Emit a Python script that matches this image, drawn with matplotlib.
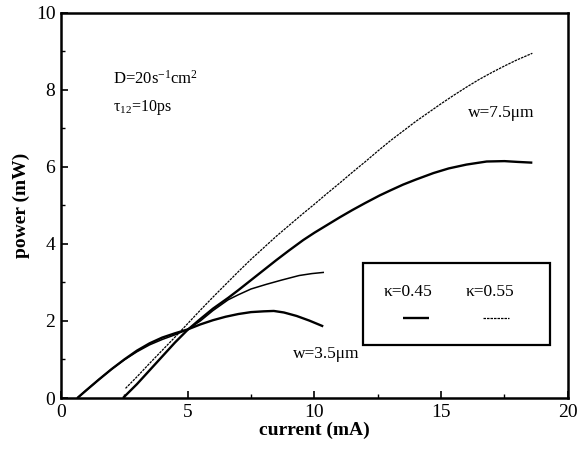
import matplotlib
matplotlib.use("Agg")
import matplotlib.pyplot as plt
from matplotlib.patches import Rectangle
from matplotlib.ticker import MultipleLocator

# ── data ─────────────────────────────────────────────────────────────────────
# w = 3.5 um, kappa = 0.45 (thick solid)
i_35_a = [0.65, 1.0, 1.5, 2.0, 2.5, 3.0, 3.5, 4.0, 4.5, 5.0, 5.5, 6.0, 6.5,
          7.0, 7.5, 8.0, 8.4, 8.8, 9.3, 9.8, 10.35]
p_35_a = [0.0, 0.20, 0.48, 0.75, 1.00, 1.23, 1.42, 1.57, 1.68, 1.78, 1.91,
          2.02, 2.11, 2.18, 2.23, 2.25, 2.26, 2.22, 2.13, 2.01, 1.86]
# w = 3.5 um, kappa = 0.55 (thin)
i_35_b = [0.65, 1.0, 1.5, 2.0, 2.5, 3.0, 3.5, 4.0, 4.5, 5.0, 5.5, 6.0, 6.6,
          7.0, 7.5, 8.1, 8.7, 9.4, 9.9, 10.35]
p_35_b = [0.0, 0.20, 0.48, 0.75, 0.99, 1.20, 1.38, 1.52, 1.64, 1.78, 2.00,
          2.27, 2.55, 2.68, 2.83, 2.95, 3.06, 3.18, 3.23, 3.26]
# w = 7.5 um, kappa = 0.45 (thick solid)
i_75_a = [2.45, 3.0, 3.5, 4.0, 4.5, 5.0, 5.5, 6.0, 6.6, 7.0, 7.5, 8.0, 8.5,
          9.0, 9.56, 10.0, 10.5, 11.0, 11.5, 12.0, 12.58, 13.0, 13.5, 14.0,
          14.7, 15.3, 16.0, 16.8, 17.5, 18.0, 18.6]
p_75_a = [0.0, 0.36, 0.72, 1.08, 1.44, 1.77, 2.05, 2.32, 2.60, 2.80, 3.06,
          3.32, 3.58, 3.83, 4.10, 4.29, 4.49, 4.69, 4.88, 5.06, 5.26, 5.39,
          5.54, 5.67, 5.84, 5.96, 6.06, 6.14, 6.15, 6.13, 6.11]
# w = 7.5 um, kappa = 0.55 (thin dotted)
i_75_b = [2.55, 3.0, 3.5, 4.0, 4.5, 5.0, 5.5, 6.0, 6.5, 7.0, 7.5, 8.0, 8.5,
          9.0, 9.5, 10.0, 10.5, 11.0, 11.5, 12.0, 12.5, 13.0, 13.5, 14.0,
          14.5, 15.0, 15.5, 16.0, 16.5, 17.0, 17.5, 18.0, 18.6]
p_75_b = [0.25, 0.55, 0.90, 1.24, 1.58, 1.93, 2.28, 2.62, 2.95, 3.28, 3.60,
          3.90, 4.20, 4.48, 4.76, 5.03, 5.31, 5.58, 5.86, 6.13, 6.41, 6.68,
          6.93, 7.18, 7.41, 7.64, 7.86, 8.07, 8.27, 8.45, 8.62, 8.78, 8.95]

x_ticks = [0, 5, 10, 15, 20]
y_ticks = [0, 2, 4, 6, 8, 10]

plt.rcParams["font.family"] = ["Liberation Serif", "DejaVu Serif"]
plt.rcParams["mathtext.fontset"] = "custom"
plt.rcParams["mathtext.rm"] = "Liberation Serif"
plt.rcParams["mathtext.it"] = "Liberation Serif:italic"

fig = plt.figure(figsize=(5.8, 4.58), dpi=100)
ax = fig.add_axes([0.105, 0.131, 0.874, 0.841])

thick = dict(color="black", linewidth=1.7, solid_capstyle="butt",
             solid_joinstyle="round")
thin = dict(color="black", linewidth=0.9, dashes=(2.0, 0.8))

ax.plot(i_35_a, p_35_a, **thick)
ax.plot(i_35_b, p_35_b, color="black", linewidth=1.1)
ax.plot(i_75_a, p_75_a, **thick)
ax.plot(i_75_b, p_75_b, **thin)

ax.set_xlim(0, 20)
ax.set_ylim(0, 10)
ax.set_xticks(x_ticks)
ax.set_yticks(y_ticks)
ax.xaxis.set_minor_locator(MultipleLocator(2.5))
ax.yaxis.set_minor_locator(MultipleLocator(1))
ax.tick_params(which="major", direction="in", length=5, width=1.2,
               labelsize=14, pad=4)
ax.tick_params(which="minor", direction="in", length=3, width=1.0)

for s in ax.spines.values():
    s.set_linewidth(1.8)

ax.set_xlabel("current (mA)", fontsize=14, fontweight="bold", labelpad=1)
ax.set_ylabel("power (mW)", fontsize=14, fontweight="bold", labelpad=4)

# annotations
ax.text(2.05, 8.15, r"D=20s$^{\mathrm{-1}}$cm$^{\mathrm{2}}$", fontsize=12)
ax.text(2.05, 7.45, r"τ$_{\mathrm{12}}$=10ps", fontsize=11.5)
ax.text(16.05, 7.3, "w=7.5μm", fontsize=12.5)
ax.text(9.15, 1.05, "w=3.5μm", fontsize=12.5)

# hand-made legend box (axes fraction)
ax.add_patch(Rectangle((0.596, 0.137), 0.369, 0.213, transform=ax.transAxes,
                       fill=False, linewidth=1.6, edgecolor="black"))
ax.text(0.684, 0.275, "κ=0.45", transform=ax.transAxes, fontsize=12.5,
        ha="center", va="center")
ax.text(0.846, 0.275, "κ=0.55", transform=ax.transAxes, fontsize=12.5,
        ha="center", va="center")
ax.plot([0.675, 0.727], [0.207, 0.207], transform=ax.transAxes, **thick)
ax.plot([0.833, 0.884], [0.207, 0.207], transform=ax.transAxes, **thin)

fig.savefig("out.png", dpi=100)
